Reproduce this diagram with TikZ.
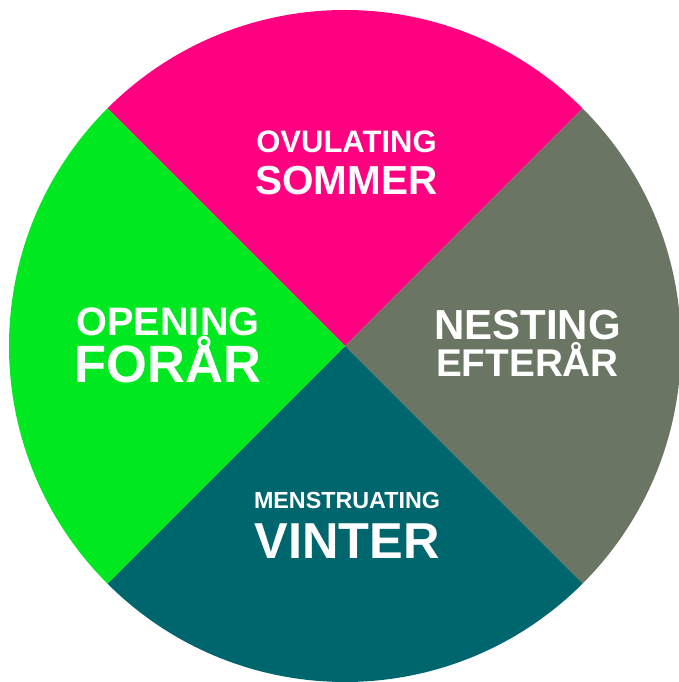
\documentclass[tikz,border=0pt]{standalone}
\usepackage{fontspec}
\setmainfont{Liberation Sans}
\usepackage{xcolor}
\definecolor{sommerpink}{HTML}{FF0080}
\definecolor{efterargray}{HTML}{6A7563}
\definecolor{vinterteal}{HTML}{00666E}
\definecolor{foraargreen}{HTML}{00E820}

\tikzset{
  season/.style={text=white, font=\bfseries, inner sep=0pt, anchor=base},
  phasetext/.style={season},
}
\newcommand{\fsz}[1]{\fontsize{#1}{#1}\selectfont}

\begin{document}
\begin{tikzpicture}[x=1pt,y=1pt]
  \useasboundingbox (0,0) rectangle (679,682);
  \clip (0,0) rectangle (679,682);
  \coordinate (c) at (345,336);
  % Kreissegmente
  \fill[sommerpink] (c) -- ++(45:336) arc[start angle=45, end angle=135, radius=336] -- cycle;
  \fill[efterargray] (c) -- ++(-45:336) arc[start angle=-45, end angle=45, radius=336] -- cycle;
  \fill[vinterteal] (c) -- ++(-135:336) arc[start angle=-135, end angle=-45, radius=336] -- cycle;
  \fill[foraargreen] (c) -- ++(135:336) arc[start angle=135, end angle=225, radius=336] -- cycle;
  % Beschriftung
  \node[phasetext, font=\bfseries\fsz{31}] (ovulating) at (346.5,529) {OVULATING};
  \node[season, font=\bfseries\fsz{40.5}] (sommer) at (346.5,487) {SOMMER};
  \node[phasetext, font=\bfseries\fsz{42}] (nesting) at (527.5,342) {NESTING};
  \node[season, font=\bfseries\fsz{38.7}] (efterar) at (527.5,305) {EFTERÅR};
  \node[phasetext, font=\bfseries\fsz{39.7}] (opening) at (168,346) {OPENING};
  \node[season, font=\bfseries\fsz{52.5}] (forar) at (168,299) {FORÅR};
  \node[phasetext, font=\bfseries\fsz{23.3}] (menstruating) at (347,173) {MENSTRUATING};
  \node[season, font=\bfseries\fsz{50.5}] (vinter) at (347,123) {VINTER};
\end{tikzpicture}
\end{document}
